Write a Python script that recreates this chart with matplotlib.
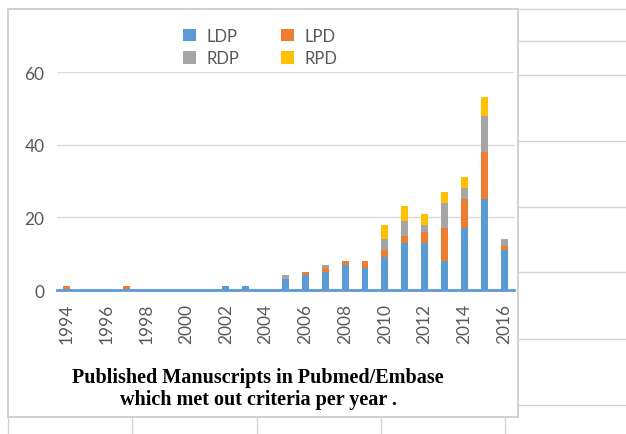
import matplotlib
matplotlib.use("Agg")
import matplotlib.pyplot as plt
import numpy as np
from matplotlib.lines import Line2D
from matplotlib.patches import Rectangle

# publications per year, split by group
years = list(range(1994, 2017))
ldp = [0, 0, 0, 0, 0, 0, 0, 0, 1, 1, 0, 3, 4, 5, 7, 6, 9, 13, 13, 8, 17, 25, 11]
lpd = [1, 0, 0, 1, 0, 0, 0, 0, 0, 0, 0, 0, 1, 1, 1, 2, 2, 2, 3, 9, 8, 13, 1]
rdp = [0, 0, 0, 0, 0, 0, 0, 0, 0, 0, 0, 1, 0, 1, 0, 0, 3, 4, 2, 7, 3, 10, 2]
rpd = [0, 0, 0, 0, 0, 0, 0, 0, 0, 0, 0, 0, 0, 0, 0, 0, 4, 4, 3, 3, 3, 5, 0]
series = ["LDP", "LPD", "RDP", "RPD"]
colors = ["#5B9BD5", "#ED7D31", "#A5A5A5", "#FFC000"]
yticks = [0, 20, 40, 60]

W, H = 626, 435
fig = plt.figure(figsize=(W / 100, H / 100), dpi=100)
plt.rcParams['font.family'] = ['Lato', 'DejaVu Sans']


def px(x, y):
    return x / W, 1 - y / H


# spreadsheet cells around the chart
grid_c = "#D4D4D4"
for yy in [10, 42, 76, 142, 208, 273, 340, 406]:
    fig.add_artist(Line2D([px(518, 0)[0], 1], [px(0, yy)[1]] * 2, color=grid_c, lw=1))
for xx in [8, 132, 257, 381, 505]:
    fig.add_artist(Line2D([px(xx, 0)[0]] * 2, [px(0, 418)[1], 0], color=grid_c, lw=1))

# chart box
x0, y0 = px(8, 418)
x1, y1 = px(518, 10)
fig.add_artist(Rectangle((x0, y0), x1 - x0, y1 - y0, transform=fig.transFigure,
                         facecolor="white", edgecolor="#C8C8C8", lw=1.2, zorder=-1))

l, b = px(57, 291)
r, t = px(514, 73)
ax = fig.add_axes([l, b, r - l, t - b])
ax.set_zorder(2)
ax.set_facecolor("none")

x = np.arange(len(years))
bottom = np.zeros(len(years))
bars = []
for name, vals, c in zip(series, [ldp, lpd, rdp, rpd], colors):
    bars.append(ax.bar(x, vals, 0.35, bottom=bottom, color=c, label=name, zorder=3))
    bottom += np.array(vals)

ax.set_xlim(-0.5, len(years) - 0.5)
ax.set_ylim(0, 60)
ax.set_yticks(yticks)
ax.set_yticklabels([str(v) for v in yticks], fontsize=12.5, color="#595959")
ax.yaxis.grid(True, color="#D9D9D9", lw=1, zorder=0)
ax.set_xticks(x[::2])
ax.set_xticklabels([str(y) for y in years[::2]], rotation=90, fontsize=12.5, color="#595959")
ax.tick_params(length=0, pad=9)
for s in ["top", "right", "left"]:
    ax.spines[s].set_visible(False)
ax.spines["bottom"].set_color("#5B9BD5")
ax.spines["bottom"].set_linewidth(2)
ax.spines["bottom"].set_zorder(4)

# legend filled row by row like Excel
order = [0, 2, 1, 3]
fig.legend([bars[i] for i in order], [series[i] for i in order],
           loc="center", bbox_to_anchor=(px(260, 48)), ncol=2, frameon=False,
           fontsize=12, handlelength=0.8, handleheight=0.8, columnspacing=2.5,
           labelspacing=0.4, handletextpad=0.6, labelcolor="#595959")

fig.text(px(258, 0)[0], px(0, 389)[1],
         "Published Manuscripts in Pubmed/Embase\nwhich met out criteria per year .",
         ha="center", va="center", fontsize=14.5, fontweight="bold",
         family="Liberation Serif", linespacing=1.1)

fig.savefig("out.png", dpi=100)
